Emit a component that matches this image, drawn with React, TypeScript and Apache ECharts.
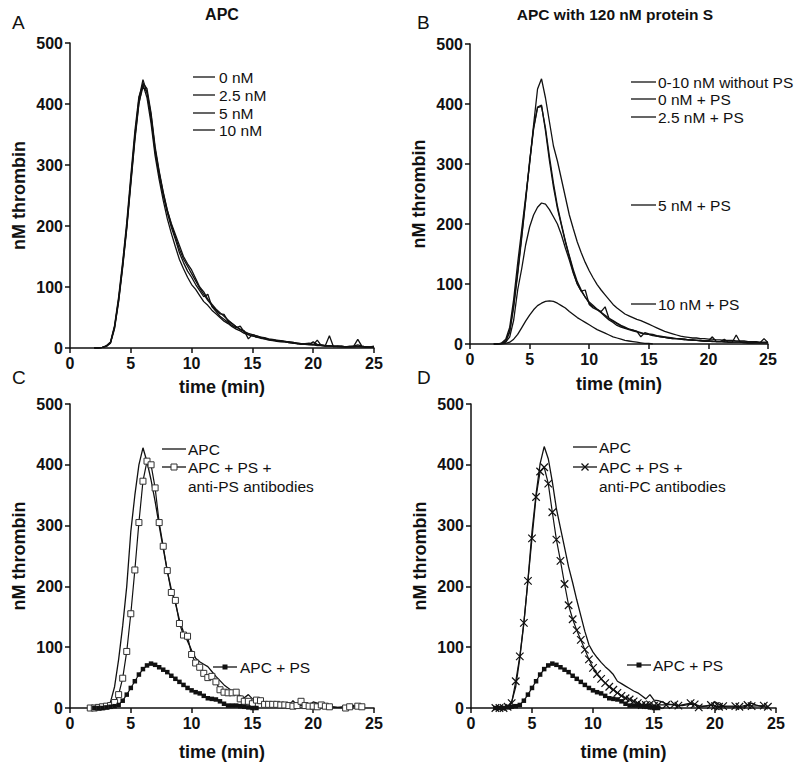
import React, { useEffect, useRef } from "react";
import * as echarts from "echarts";

// ---------- data (nM thrombin, sampled every 20 s = 1/3 min) ----------
const STEP_MIN = 1 / 3;
const X_TICKS = [0, 5, 10, 15, 20, 25];
const Y_TICKS = [0, 100, 200, 300, 400, 500];

// Panel A: APC concentrations (start at 2.0 min)
const A_START = 2.0;
const A_0nM = [
  0, 0, 1, 3, 9, 35, 80, 137, 200, 275,
  348, 408, 440, 418, 376, 322, 283, 250, 222, 198,
  178, 156, 140, 126, 116, 104, 94, 84, 88, 68,
  60, 52, 47, 42, 37, 33, 36, 26, 22, 20,
  18, 17, 15, 14, 13, 12, 11, 10, 9, 8,
  7, 6, 6, 5, 5, 13, 4, 3, 3, 3,
  2, 2, 2, 3, 3, 14, 3, 2, 2, 3,
];
const A_2_5nM = [
  0, 0, 1, 3, 8, 32, 76, 132, 195, 268,
  340, 400, 434, 425, 385, 330, 290, 256, 226, 202,
  182, 162, 146, 134, 122, 110, 98, 88, 78, 70,
  62, 56, 55, 44, 40, 35, 31, 28, 15, 22,
  20, 18, 16, 14, 13, 12, 12, 11, 10, 9,
  8, 7, 6, 6, 5, 4, 4, 3, 3, 3,
  3, 2, 2, 2, 2, 2, 2, 1, 1, 2,
];
const A_5nM = [
  0, 0, 1, 4, 10, 37, 84, 142, 206, 282,
  355, 412, 432, 410, 368, 315, 276, 242, 212, 188,
  166, 145, 130, 116, 104, 96, 86, 76, 70, 62,
  56, 50, 44, 40, 35, 31, 28, 24, 22, 20,
  18, 16, 15, 13, 12, 11, 10, 10, 9, 8,
  7, 7, 6, 6, 10, 6, 5, 4, 20, 2,
  3, 3, 2, 2, 2, 3, 2, 2, 1, 1,
];
const A_10nM = [
  0, 0, 1, 3, 9, 34, 78, 135, 198, 272,
  344, 402, 428, 420, 382, 326, 288, 254, 226, 204,
  186, 168, 150, 138, 128, 114, 100, 92, 80, 72,
  64, 58, 52, 46, 40, 35, 30, 27, 24, 22,
  20, 18, 17, 15, 14, 13, 12, 11, 10, 9,
  8, 7, 7, 8, 6, 5, 5, 4, 4, 3,
  3, 3, 2, 2, 3, 5, 3, 2, 2, 2,
];

// Panel B: APC with 120 nM protein S (start at 2.0 min)
const B_START = 2.0;
const B_noPS = [
  0, 0, 2, 8, 28, 75, 135, 190, 245, 300,
  365, 425, 442, 410, 370, 330, 305, 275, 245, 215,
  192, 170, 152, 136, 122, 110, 99, 90, 82, 74,
  66, 60, 55, 50, 47, 44, 41, 39, 36, 33,
  30, 27, 24, 21, 19, 17, 15, 13, 12, 11,
  10, 10, 9, 9, 8, 8, 7, 7, 6, 6,
  6, 5, 5, 5, 4, 4, 4, 3, 3, 3,
];
const B_0nM_PS = [
  0, 0, 1, 5, 22, 65, 120, 180, 240, 305,
  360, 395, 398, 355, 305, 262, 226, 198, 170, 145,
  120, 100, 88, 90, 66, 60, 57, 52, 46, 40,
  36, 31, 28, 26, 24, 22, 20, 18, 17, 16,
  14, 13, 12, 11, 10, 9, 9, 8, 8, 7,
  7, 6, 6, 5, 5, 5, 4, 4, 4, 3,
  3, 3, 3, 3, 2, 2, 2, 2, 2, 2,
];
const B_2_5nM_PS = [
  0, 0, 1, 4, 20, 62, 116, 176, 238, 302,
  358, 394, 396, 360, 312, 268, 230, 200, 172, 147,
  124, 104, 90, 78, 68, 62, 58, 54, 62, 42,
  38, 34, 30, 27, 25, 23, 21, 12, 19, 17,
  16, 14, 13, 12, 11, 10, 9, 9, 8, 7,
  7, 6, 6, 5, 5, 12, 4, 4, 8, 3,
  3, 15, 3, 3, 2, 2, 3, 2, 9, 2,
];
const B_5nM_PS = [
  0, 0, 1, 3, 12, 40, 90, 125, 165, 195,
  215, 228, 235, 233, 224, 212, 200, 182, 160, 140,
  118, 100, 88, 78, 70, 64, 58, 53, 48, 43,
  39, 35, 31, 28, 25, 23, 21, 19, 17, 16,
  15, 13, 12, 11, 10, 9, 9, 8, 7, 7,
  6, 6, 5, 5, 5, 4, 4, 4, 3, 3,
  3, 3, 3, 2, 2, 2, 2, 2, 2, 2,
];
const B_10nM_PS = [
  0, 0, 0, 1, 3, 8, 16, 27, 38, 48,
  57, 64, 68, 71, 72, 71, 68, 64, 60, 54,
  49, 44, 40, 36, 32, 28, 24, 21, 18, 15,
  12, 10, 8, 6, 5, 4, 3, 2, 1, 1, 0,
];

// Panel C
const C_APC_START = 2.0;
const C_APC = [
  0, 0, 1, 3, 10, 35, 80, 135, 200, 290,
  350, 400, 428, 405, 375, 340, 300, 262, 225, 195,
  172, 145, 125, 110, 95, 82, 76, 72, 68, 60,
  52, 45, 38, 33, 28, 24, 20, 17, 22, 15,
  13, 12, 10, 9, 8, 7, 7, 5, 4, 12,
  5, 4, 3, 4, 10, 8, 3, 2, 3, 2,
  1, 2, 3, 6, 4, 2, 1,
];
const C_ANTIPS_START = 5 / 3;
const C_APC_PS_antiPS: (number | null)[] = [
  0, 0, 1, 2, 3, 4, 9, 22, 49, 93,
  155, 227, 305, 373, 406, 400, 362, 305, 266, 226,
  190, 177, 139, 120, 118, 88, 74, 67, 57, 50,
  52, 43, 30, 26, 25, 25, 26, 15, 11, 11,
  7, 13, 12, 6, 6, 6, 6, 5, 5, 4,
  3, 4, 11, 4, 3, 3, 2, 5, 3, 2,
  null, null, null, 0, 2, null, 3, 2,
];

// APC + PS (panels C and D)
const PS_START = 2.0;
const APC_PS = [
  0, 0, 0, 1, 2, 3, 5, 12, 22, 33,
  44, 55, 64, 70, 73, 71, 67, 63, 59, 53,
  48, 43, 38, 33, 29, 26, 24, 20, 16, 15,
  14, 11, 7, 4, 4, 4, 3, 2, 1, 0, 0,
];

// Panel D
const D_APC_START = 2.0;
const D_APC = [
  0, 0, 1, 3, 10, 35, 82, 140, 210, 290,
  352, 402, 430, 410, 372, 328, 296, 264, 232, 206,
  178, 152, 126, 104, 92, 83, 75, 68, 62, 55,
  44, 40, 36, 32, 28, 25, 20, 15, 22, 13,
  12, 10, 7, 6, 5, 4, 4, 5, 6, 6,
  4, 3, 3, 5, 10, 6, 3, 2, 2, 2,
  1, 2, 4, 8, 5, 3, 2,
];
const D_ANTIPC_START = 2.0;
const D_APC_PS_antiPC: (number | null)[] = [
  0, 0, 0, 2, 8, 44, 85, 140, 209, 279,
  347, 389, 396, 369, 322, 277, 242, 204, 169, 146,
  128, 112, 96, 80, 66, 56, 48, 41, 35, 30,
  25, 20, 16, 14, 11, 8, 5, 5, 6, 4,
  5, null, 5, null, 6, 4, null, null, 8, 6,
  1, null, null, 5, 3, 2, 3, null, null, 3,
  2, null, 5, 3, null, null, 4, 2,
];

// ---------- helpers ----------
const FONT = '"Liberation Sans", Arial, Helvetica, sans-serif';
const INK = "#111";

function pairs(start: number, vals: (number | null)[]) {
  return vals.map((v, i) => [start + i * STEP_MIN, v === null ? "-" : v]);
}

const GRIDS = [
  { left: 70, top: 43, width: 304, height: 305 },
  { left: 470, top: 44, width: 298, height: 300 },
  { left: 70, top: 404, width: 304, height: 304 },
  { left: 471, top: 404, width: 305, height: 304 },
];
const XNAME_GAP = [30, 31, 35, 35];

function xAxis(i: number) {
  return {
    type: "value",
    gridIndex: i,
    min: X_TICKS[0],
    max: X_TICKS[X_TICKS.length - 1],
    interval: X_TICKS[1] - X_TICKS[0],
    name: "time (min)",
    nameLocation: "middle",
    nameGap: XNAME_GAP[i],
    nameTextStyle: { fontFamily: FONT, fontSize: 18, fontWeight: "bold", color: INK },
    axisLine: { show: true, onZero: false, lineStyle: { color: INK, width: 1.5 } },
    axisTick: { show: true, length: 5, lineStyle: { color: INK, width: 1.5 } },
    axisLabel: { fontFamily: FONT, fontSize: 16, fontWeight: "bold", color: INK, margin: 7 },
    splitLine: { show: false },
  };
}
function yAxis(i: number) {
  return {
    type: "value",
    gridIndex: i,
    min: Y_TICKS[0],
    max: Y_TICKS[Y_TICKS.length - 1],
    interval: Y_TICKS[1] - Y_TICKS[0],
    name: "nM thrombin",
    nameLocation: "middle",
    nameGap: 42,
    nameRotate: 90,
    nameTextStyle: { fontFamily: FONT, fontSize: 18, fontWeight: "bold", color: INK },
    axisLine: { show: true, onZero: false, lineStyle: { color: INK, width: 1.5 } },
    axisTick: { show: true, length: 5, lineStyle: { color: INK, width: 1.5 } },
    axisLabel: { fontFamily: FONT, fontSize: 16, fontWeight: "bold", color: INK, margin: 7 },
    splitLine: { show: false },
  };
}

function plain(name: string, grid: number, start: number, vals: (number | null)[]) {
  return {
    type: "line",
    name,
    xAxisIndex: grid,
    yAxisIndex: grid,
    data: pairs(start, vals),
    showSymbol: false,
    symbol: "none",
    connectNulls: true,
    silent: true,
    lineStyle: { color: INK, width: 1.3 },
    z: 3,
  };
}
function marked(name: string, grid: number, start: number, vals: (number | null)[], kind: string) {
  const base: any = {
    type: "line",
    name,
    xAxisIndex: grid,
    yAxisIndex: grid,
    data: pairs(start, vals),
    showSymbol: true,
    connectNulls: true,
    silent: true,
    lineStyle: { color: INK, width: 1.2 },
    z: 4,
  };
  if (kind === "open") {
    base.symbol = "rect";
    base.symbolSize = 6;
    base.itemStyle = { color: "#fff", borderColor: "#333", borderWidth: 1 };
  } else if (kind === "filled") {
    base.symbol = "rect";
    base.symbolSize = 4.5;
    base.itemStyle = { color: INK, borderColor: INK, borderWidth: 0 };
  } else {
    base.symbol = "path://M0 0 L10 10 M10 0 L0 10";
    base.symbolSize = 7.5;
    base.itemStyle = { color: "none", borderColor: INK, borderWidth: 1.2 };
  }
  return base;
}

function txt(x: number, y: number, text: string, size: number, bold = false, align = "left") {
  return {
    type: "text",
    x,
    y,
    silent: true,
    style: {
      text,
      fill: INK,
      font: `${bold ? "bold " : ""}${size}px ${FONT}`,
      align,
      verticalAlign: "middle",
      textAlign: align,
      textVerticalAlign: "middle",
    },
  };
}
function seg(x1: number, x2: number, y: number) {
  return { type: "line", silent: true, shape: { x1, y1: y, x2, y2: y }, style: { stroke: INK, lineWidth: 1.3 } };
}
function openSq(cx: number, cy: number) {
  return { type: "rect", silent: true, shape: { x: cx - 3, y: cy - 3, width: 6, height: 6 }, style: { fill: "#fff", stroke: "#333", lineWidth: 1 } };
}
function fillSq(cx: number, cy: number) {
  return { type: "rect", silent: true, shape: { x: cx - 2.5, y: cy - 2.5, width: 5, height: 5 }, style: { fill: INK } };
}
function cross(cx: number, cy: number) {
  return [
    { type: "line", silent: true, shape: { x1: cx - 3.5, y1: cy - 3.5, x2: cx + 3.5, y2: cy + 3.5 }, style: { stroke: INK, lineWidth: 1.2 } },
    { type: "line", silent: true, shape: { x1: cx + 3.5, y1: cy - 3.5, x2: cx - 3.5, y2: cy + 3.5 }, style: { stroke: INK, lineWidth: 1.2 } },
  ];
}

const LEG = 15.5;

export default function App() {
  const ref = useRef<HTMLDivElement>(null);
  useEffect(() => {
    if (!ref.current) return;
    const chart = echarts.init(ref.current, undefined, { renderer: "svg" });
    const graphics: any[] = [
      // panel letters and titles
      txt(12, 22, "A", 19),
      txt(417, 22, "B", 19),
      txt(12, 377, "C", 19),
      txt(417, 377, "D", 19),
      txt(222, 14, "APC", 16, true, "center"),
      txt(615, 14, "APC with 120 nM protein S", 15.5, true, "center"),
      // legend A
      seg(193, 215, 77), txt(219, 77, "0 nM", LEG),
      seg(193, 215, 95), txt(219, 95, "2.5 nM", LEG),
      seg(193, 215, 113), txt(219, 113, "5 nM", LEG),
      seg(193, 215, 130), txt(219, 130, "10 nM", LEG),
      // legend B
      seg(631, 656, 82), txt(658, 82, "0-10 nM without PS", LEG),
      seg(631, 656, 99), txt(658, 99, "0 nM + PS", LEG),
      seg(631, 656, 117), txt(658, 117, "2.5 nM + PS", LEG),
      seg(631, 656, 205), txt(658, 205, "5 nM + PS", LEG),
      seg(631, 656, 304), txt(658, 304, "10 nM + PS", LEG),
      // legend C
      seg(162, 186, 449), txt(188, 449, "APC", LEG),
      seg(162, 186, 467), openSq(174, 467), txt(188, 467, "APC + PS +", LEG),
      txt(188, 486, "anti-PS antibodies", LEG),
      seg(213, 237, 667), fillSq(225, 667), txt(240, 667, "APC + PS", LEG),
      // legend D
      seg(573, 597, 447), txt(599, 447, "APC", LEG),
      seg(573, 597, 467), ...cross(585, 467), txt(599, 467, "APC + PS +", LEG),
      txt(599, 486, "anti-PC antibodies", LEG),
      seg(627, 651, 665), fillSq(639, 665), txt(653, 665, "APC + PS", LEG),
    ];
    chart.setOption({
      animation: false,
      backgroundColor: "#fff",
      textStyle: { fontFamily: FONT },
      grid: GRIDS.map((g) => ({ ...g, containLabel: false })),
      xAxis: [0, 1, 2, 3].map(xAxis),
      yAxis: [0, 1, 2, 3].map(yAxis),
      series: [
        plain("0 nM", 0, A_START, A_0nM),
        plain("2.5 nM", 0, A_START, A_2_5nM),
        plain("5 nM", 0, A_START, A_5nM),
        plain("10 nM", 0, A_START, A_10nM),
        plain("0-10 nM without PS", 1, B_START, B_noPS),
        plain("0 nM + PS", 1, B_START, B_0nM_PS),
        plain("2.5 nM + PS", 1, B_START, B_2_5nM_PS),
        plain("5 nM + PS", 1, B_START, B_5nM_PS),
        plain("10 nM + PS", 1, B_START, B_10nM_PS),
        plain("APC", 2, C_APC_START, C_APC),
        marked("APC + PS + anti-PS antibodies", 2, C_ANTIPS_START, C_APC_PS_antiPS, "open"),
        marked("APC + PS", 2, PS_START, APC_PS, "filled"),
        plain("APC", 3, D_APC_START, D_APC),
        marked("APC + PS + anti-PC antibodies", 3, D_ANTIPC_START, D_APC_PS_antiPC, "cross"),
        marked("APC + PS", 3, PS_START, APC_PS, "filled"),
      ],
      graphic: { elements: graphics },
    });
    return () => chart.dispose();
  }, []);
  return (
    <div
      ref={ref}
      style={{ position: "fixed", left: 0, top: 0, width: 800, height: 770, background: "#fff" }}
    />
  );
}
